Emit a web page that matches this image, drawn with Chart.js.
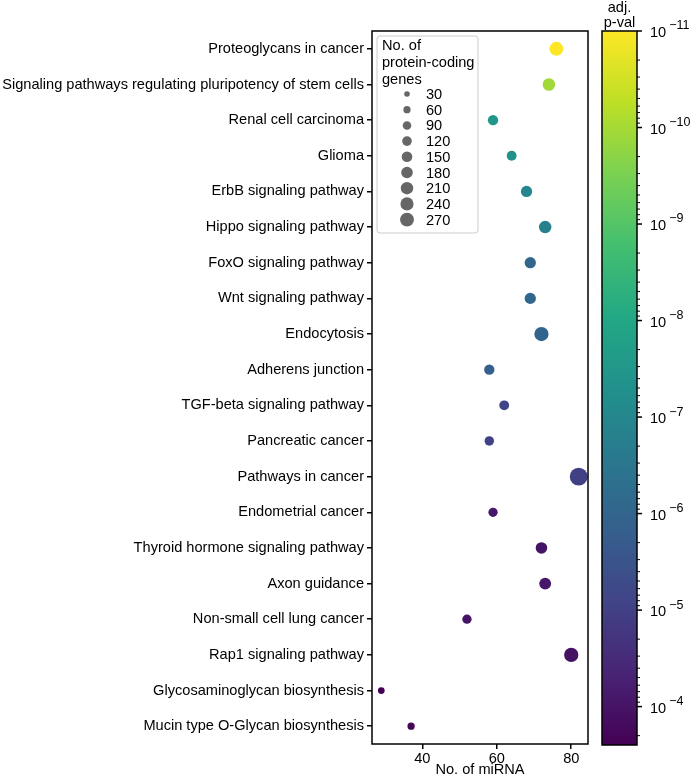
<!DOCTYPE html>
<html>
<head>
<meta charset="utf-8">
<script src="https://cdn.jsdelivr.net/npm/chart.js@4.4.1/dist/chart.umd.min.js"></script>
<style>
  body { margin: 0; background: #fff; }
  #wrap { position: relative; width: 693px; height: 777px; }
  #cbar { position: absolute; left: 588px; top: 0; }
</style>
</head>
<body>
<div id="wrap">
  <canvas id="main" width="693" height="777"></canvas>
  <canvas id="cbar" width="105" height="777"></canvas>
</div>
<script>
// KEGG pathways, top to bottom
const pathways = [
  'Proteoglycans in cancer',
  'Signaling pathways regulating pluripotency of stem cells',
  'Renal cell carcinoma',
  'Glioma',
  'ErbB signaling pathway',
  'Hippo signaling pathway',
  'FoxO signaling pathway',
  'Wnt signaling pathway',
  'Endocytosis',
  'Adherens junction',
  'TGF-beta signaling pathway',
  'Pancreatic cancer',
  'Pathways in cancer',
  'Endometrial cancer',
  'Thyroid hormone signaling pathway',
  'Axon guidance',
  'Non-small cell lung cancer',
  'Rap1 signaling pathway',
  'Glycosaminoglycan biosynthesis',
  'Mucin type O-Glycan biosynthesis'
];
const miRNA = [76, 74, 59, 64, 68, 73, 69, 69, 72, 58, 62, 58, 82, 59, 72, 73, 52, 80, 29, 37];
const genes = [270, 215, 140, 125, 170, 215, 170, 170, 285, 140, 125, 115, 460, 110, 180, 190, 110, 285, 50, 60];
const pvals = [1e-11, 1.1e-10, 3.5e-8, 5e-8, 1e-7, 1.5e-7, 9e-7, 9e-7, 1e-6, 1.5e-6, 8e-6, 9e-6, 1e-5,
               8e-5, 1e-4, 9e-5, 1e-4, 1.1e-4, 2.5e-4, 2e-4];

const xTicks = [40, 60, 80];
const sizeLegend = [30, 60, 90, 120, 150, 180, 210, 240, 270];
const cbExps = [-11, -10, -9, -8, -7, -6, -5, -4];
const pMin = 1e-11, pMax = 2.5e-4;

const FONT = "'Liberation Sans', Arial, sans-serif";
const FS = 14.6;

const VIRIDIS = ['#440154', '#482475', '#414487', '#355f8d', '#2a788e', '#21918c',
                 '#22a884', '#44bf70', '#7ad151', '#bddf26', '#fde725'];

function hexRgb(h) {
  return [parseInt(h.slice(1, 3), 16), parseInt(h.slice(3, 5), 16), parseInt(h.slice(5, 7), 16)];
}
function viridis(t) {
  t = Math.max(0, Math.min(1, t));
  const s = t * 10, i = Math.min(9, Math.floor(s)), f = s - i;
  const a = hexRgb(VIRIDIS[i]), b = hexRgb(VIRIDIS[i + 1]);
  const c = a.map((v, k) => Math.round(v + (b[k] - v) * f));
  return `rgb(${c[0]},${c[1]},${c[2]})`;
}
// small p -> yellow
function pNorm(p) {
  return (Math.log10(pMax) - Math.log10(p)) / (Math.log10(pMax) - Math.log10(pMin));
}
function geneRadius(g) {
  return 0.5 * Math.sqrt(6 + 0.633 * g) + 0.3;
}

const framePlugin = {
  id: 'frame',
  afterDraw(chart) {
    const {ctx, chartArea: a} = chart;
    ctx.save();
    ctx.strokeStyle = '#000';
    ctx.lineWidth = 1.5;
    ctx.strokeRect(a.left, a.top, a.right - a.left, a.bottom - a.top);
    ctx.restore();
  }
};

const sizeLegendPlugin = {
  id: 'sizeLegend',
  afterDatasetsDraw(chart) {
    const {ctx, chartArea: a} = chart;
    const x0 = a.left + 5, y0 = a.top + 5, w = 101, h = 197;
    ctx.save();
    ctx.beginPath();
    ctx.roundRect(x0, y0, w, h, 3);
    ctx.fillStyle = 'rgba(255,255,255,0.8)';
    ctx.fill();
    ctx.strokeStyle = '#cccccc';
    ctx.lineWidth = 1;
    ctx.stroke();

    ctx.fillStyle = '#000';
    ctx.font = `${FS}px ${FONT}`;
    ctx.textBaseline = 'middle';
    ctx.textAlign = 'left';
    ['No. of', 'protein-coding', 'genes'].forEach((t, i) => {
      ctx.fillText(t, x0 + 5, y0 + 10 + i * 17);
    });
    sizeLegend.forEach((g, i) => {
      const cy = y0 + 58 + i * 15.7;
      ctx.beginPath();
      ctx.arc(x0 + 30, cy, geneRadius(g), 0, Math.PI * 2);
      ctx.fillStyle = '#666666';
      ctx.fill();
      ctx.fillStyle = '#000';
      ctx.fillText(String(g), x0 + 49, cy + 1);
    });
    ctx.restore();
  }
};

const tickGrid = {drawOnChartArea: false, drawTicks: true, tickLength: 5, color: '#000', lineWidth: 1.5};

new Chart(document.getElementById('main'), {
  type: 'scatter',
  data: {
    datasets: [{
      data: pathways.map((p, i) => ({x: miRNA[i], y: p})),
      pointRadius: ctx => geneRadius(genes[ctx.dataIndex]),
      pointHoverRadius: ctx => geneRadius(genes[ctx.dataIndex]),
      backgroundColor: ctx => viridis(pNorm(pvals[ctx.dataIndex])),
      borderWidth: 0
    }]
  },
  options: {
    responsive: false,
    animation: false,
    layout: {padding: {top: 31, right: 105, left: 0, bottom: 0}},
    plugins: {legend: {display: false}, tooltip: {enabled: false}},
    scales: {
      x: {
        type: 'linear',
        min: 26.5,
        max: 84.5,
        afterBuildTicks: s => { s.ticks = xTicks.map(v => ({value: v})); },
        afterFit: s => { s.height = 33; },
        grid: tickGrid,
        border: {display: false},
        ticks: {color: '#000', font: {family: FONT, size: FS}, padding: 1, maxRotation: 0},
        title: {display: true, text: 'No. of miRNA', color: '#000',
                font: {family: FONT, size: FS, lineHeight: 1}, padding: 0}
      },
      y: {
        type: 'category',
        labels: pathways,
        offset: true,
        afterFit: s => { s.width = 372; },
        grid: tickGrid,
        border: {display: false},
        ticks: {color: '#000', font: {family: FONT, size: FS}, padding: 3, autoSkip: false}
      }
    }
  },
  plugins: [framePlugin, sizeLegendPlugin]
});

const colorbarPlugin = {
  id: 'colorbar',
  afterDraw(chart) {
    const {ctx, chartArea: a} = chart;
    const ys = chart.scales.y;
    ctx.save();
    const grad = ctx.createLinearGradient(0, a.top, 0, a.bottom);
    VIRIDIS.forEach((c, k) => grad.addColorStop(1 - k / 10, c));
    ctx.fillStyle = grad;
    ctx.fillRect(a.left, a.top, a.right - a.left, a.bottom - a.top);
    ctx.strokeStyle = '#000';
    ctx.lineWidth = 1.5;
    ctx.strokeRect(a.left, a.top, a.right - a.left, a.bottom - a.top);

    // minor ticks
    ctx.lineWidth = 1;
    for (let e = -12; e <= -4; e++) {
      for (let m = 2; m <= 9; m++) {
        const v = m * Math.pow(10, e);
        if (v < pMin || v > pMax) continue;
        const y = ys.getPixelForValue(v);
        ctx.beginPath();
        ctx.moveTo(a.right, y);
        ctx.lineTo(a.right + 3, y);
        ctx.stroke();
      }
    }
    // major ticks + labels
    ctx.lineWidth = 1.5;
    ctx.fillStyle = '#000';
    ctx.textBaseline = 'middle';
    ctx.textAlign = 'left';
    cbExps.forEach(e => {
      const y = ys.getPixelForValue(Math.pow(10, e));
      ctx.beginPath();
      ctx.moveTo(a.right, y);
      ctx.lineTo(a.right + 5, y);
      ctx.stroke();
      ctx.font = `${FS}px ${FONT}`;
      const x = a.right + 13;
      ctx.fillText('10', x, y + 2);
      const w = ctx.measureText('10').width;
      ctx.font = `12.5px ${FONT}`;
      ctx.fillText('\u2212' + Math.abs(e), x + w + 3, y - 5);
    });

    ctx.font = `${FS}px ${FONT}`;
    ctx.textAlign = 'center';
    const cx = (a.left + a.right) / 2;
    ctx.fillText('adj.', cx, 8);
    ctx.fillText('p-val', cx, 23);
    ctx.restore();
  }
};

new Chart(document.getElementById('cbar'), {
  type: 'scatter',
  data: {datasets: []},
  options: {
    responsive: false,
    animation: false,
    layout: {padding: {left: 14, right: 56, top: 31, bottom: 32}},
    plugins: {legend: {display: false}, tooltip: {enabled: false}},
    scales: {
      x: {display: false},
      y: {type: 'logarithmic', display: false, min: pMin, max: pMax, reverse: true}
    }
  },
  plugins: [colorbarPlugin]
});
</script>
</body>
</html>
